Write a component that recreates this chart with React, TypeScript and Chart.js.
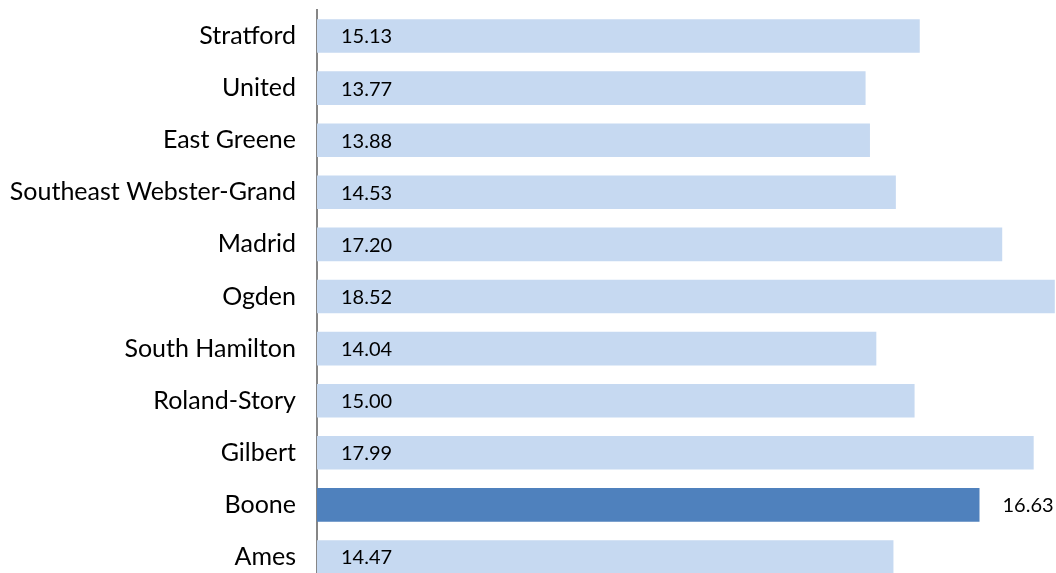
import React, { useEffect, useRef } from "react";
import { Chart, registerables } from "chart.js";

Chart.register(...registerables);

const categories = [
  "Stratford",
  "United",
  "East Greene",
  "Southeast Webster-Grand",
  "Madrid",
  "Ogden",
  "South Hamilton",
  "Roland-Story",
  "Gilbert",
  "Boone",
  "Ames",
];
const values = [15.13, 13.77, 13.88, 14.53, 17.2, 18.52, 14.04, 15.0, 17.99, 16.63, 14.47];
const highlight = "Boone";

const LIGHT = "#C6D9F1";
const DARK = "#4F81BD";
const FONT = "Lato, 'Noto Sans', sans-serif";

const labelPlugin = {
  id: "barLabels",
  afterDatasetsDraw(chart: any) {
    const ctx = chart.ctx;
    const meta = chart.getDatasetMeta(0);
    ctx.save();
    ctx.font = `20px ${FONT}`;
    ctx.fillStyle = "#000000";
    ctx.textBaseline = "middle";
    ctx.textAlign = "left";
    meta.data.forEach((bar: any, i: number) => {
      const txt = values[i].toFixed(2);
      const x = categories[i] === highlight ? bar.x + 23 : bar.base + 24;
      ctx.fillText(txt, x, bar.y + 1);
    });
    ctx.restore();
  },
};

export default function App() {
  const ref = useRef<HTMLCanvasElement | null>(null);
  useEffect(() => {
    if (!ref.current) return;
    const chart = new Chart(ref.current, {
      type: "bar",
      data: {
        labels: categories,
        datasets: [
          {
            data: values,
            backgroundColor: categories.map((c) => (c === highlight ? DARK : LIGHT)),
            borderWidth: 0,
            categoryPercentage: 1,
            barPercentage: 0.645,
          },
        ],
      },
      options: {
        indexAxis: "y",
        animation: false,
        responsive: false,
        maintainAspectRatio: false,
        layout: { padding: { top: 10, bottom: 0, left: 0, right: 0 } },
        plugins: { legend: { display: false }, tooltip: { enabled: false } },
        scales: {
          x: { display: false, min: 0, max: 18.55 },
          y: {
            grid: { display: false, drawTicks: false },
            border: { display: true, color: "#868686", width: 2 },
            ticks: {
              color: "#000000",
              font: { family: FONT, size: 25 },
              padding: 21,
            },
            afterFit(scale: any) {
              scale.width = 317;
              scale.paddingTop = 0;
              scale.paddingBottom = 0;
            },
          },
        },
      },
      plugins: [labelPlugin],
    });
    return () => chart.destroy();
  }, []);
  return (
    <div
      style={{
        position: "fixed",
        left: 0,
        top: 0,
        width: 1056,
        height: 573,
        overflow: "hidden",
        background: "#ffffff",
      }}
    >
      <canvas ref={ref} width={1056} height={583} style={{ display: "block" }} />
    </div>
  );
}
